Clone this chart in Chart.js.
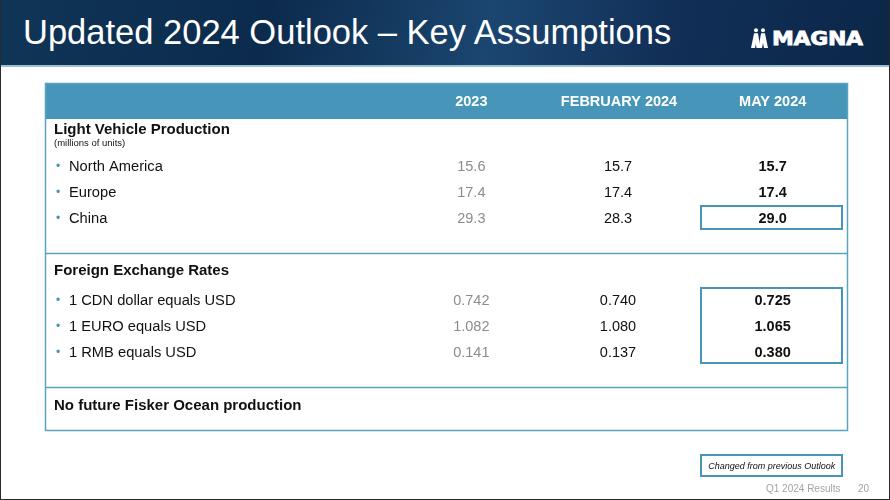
<!DOCTYPE html>
<html>
<head>
<meta charset="utf-8">
<title>Updated 2024 Outlook – Key Assumptions</title>
<script src="https://cdn.jsdelivr.net/npm/chart.js@4.4.1/dist/chart.umd.min.js"></script>
<style>
  html, body { margin: 0; padding: 0; background: #fff; }
  .slide {
    position: relative; width: 890px; height: 500px; overflow: hidden;
    box-sizing: border-box; border: 1px solid #2a2a2a; border-top: none;
    font-family: "Liberation Sans", Arial, sans-serif;
  }
  .header {
    position: absolute; left: 0; top: 0; width: 890px; height: 65px;
    background: linear-gradient(100deg, #0f3556 0%, #0c2b4c 30%, #1b4670 55%, #112f57 75%, #0b2748 100%);
    border-bottom: 2px solid #9cc0d3;
  }
  .title {
    position: absolute; left: 22px; top: 15px; color: #fff;
    font-size: 34.5px; line-height: 34px; white-space: nowrap;
  }
  .logo { position: absolute; left: 750px; top: 27px; height: 22px; }
  .logo svg { position: absolute; left: 0; top: 1px; }
  .logo span {
    position: absolute; left: 21px; top: 0; color: #fff;
    font: bold 20px "DejaVu Sans", sans-serif; line-height: 22px;
    -webkit-text-stroke: 0.8px #fff;
    transform: scaleX(1.1); transform-origin: left center; letter-spacing: -0.3px;
  }
  .footer { position: absolute; top: 483px; font-size: 10px; color: #a3a3a3; }
  #wrap { position: absolute; left: 0; top: 0; width: 890px; height: 500px; }
</style>
</head>
<body>
<div class="slide">
  <div class="header">
    <div class="title">Updated 2024 Outlook – Key Assumptions</div>
    <div class="logo">
      <svg width="20" height="20" viewBox="0 0 20 20">
        <circle cx="5" cy="2.2" r="2" fill="#fff"/>
        <circle cx="12" cy="2.2" r="2" fill="#fff"/>
        <polygon points="3,5.5 7,5.5 4,20 0,20" fill="#fff"/>
        <polygon points="3,5.5 7,5.5 9.5,20 5.5,20" fill="#fff"/>
        <polygon points="10,5.5 14,5.5 11,20 7.5,20" fill="#fff"/>
        <polygon points="10,5.5 14,5.5 17,20 13,20" fill="#fff"/>
      </svg>
      <span>MAGNA</span>
    </div>
  </div>
  <div id="wrap"><canvas id="chart"></canvas></div>
  <div class="footer" style="left:765px">Q1 2024 Results</div>
  <div class="footer" style="left:857px">20</div>
</div>

<script>
// table content
const columns = ['2023', 'FEBRUARY 2024', 'MAY 2024'];
const sections = ['Light Vehicle Production', 'Foreign Exchange Rates', 'No future Fisker Ocean production'];
const sectionNotes = ['(millions of units)', '', ''];
const sectionDecimals = [1, 3, 0];
const rowLabels = ['North America', 'Europe', 'China', '1 CDN dollar equals USD', '1 EURO equals USD', '1 RMB equals USD'];
const rowSection = [0, 0, 0, 1, 1, 1];
const values2023 = [15.6, 17.4, 29.3, 0.742, 1.082, 0.141];
const valuesFeb2024 = [15.7, 17.4, 28.3, 0.740, 1.080, 0.137];
const valuesMay2024 = [15.7, 17.4, 29.0, 0.725, 1.065, 0.380];
const changedMay = [false, false, true, true, true, true];
const legendText = 'Changed from previous Outlook';

const TEAL = '#4796b9';
const LINE = '#5aa2c3';
const FONT = '"Liberation Sans", Arial, sans-serif';

// vertical layout in row units (y scale is linear, reversed)
const sectionTop = [], titleY = [], noteY = [], rowY = [];
let cursor = 0;
sections.forEach((s, si) => {
  const idx = rowSection.map((r, i) => r === si ? i : -1).filter(i => i >= 0);
  sectionTop.push(cursor);
  titleY.push(cursor + (sectionNotes[si] ? 0.4 : idx.length ? 0.7 : 0.75));
  noteY.push(cursor + 0.93);
  idx.forEach((i, j) => { rowY[i] = cursor + 1.8 + j; });
  cursor += idx.length ? 1.3 + idx.length + 0.85 : 1.7;
});
const totalUnits = cursor;

const columnValues = [values2023, valuesFeb2024, valuesMay2024];
const columnStyle = [
  { color: '#8c8c8c', weight: 'normal' },
  { color: '#111111', weight: 'normal' },
  { color: '#111111', weight: 'bold' }
];

const tablePlugin = {
  id: 'table',
  afterDatasetsDraw(chart) {
    const { ctx, chartArea } = chart;
    const x = chart.scales.x, y = chart.scales.y;
    const left = y.left, right = chartArea.right;
    const colW = x.getPixelForValue(1) - x.getPixelForValue(0);
    ctx.save();

    // header band with column names
    ctx.fillStyle = TEAL;
    ctx.fillRect(left, x.top, right - left, x.height);
    ctx.fillStyle = '#fff';
    ctx.font = 'bold 14.5px ' + FONT;
    ctx.textAlign = 'center';
    ctx.textBaseline = 'middle';
    columns.forEach((c, i) => ctx.fillText(c, x.getPixelForValue(i) - (i === 1 ? 3 : 0), x.top + x.height / 2 + 1));

    // outer frame and section dividers
    ctx.strokeStyle = LINE;
    ctx.lineWidth = 1.5;
    ctx.strokeRect(left + 0.5, x.top + 0.5, right - left - 1, chartArea.bottom - x.top - 1);
    sectionTop.forEach((t, si) => {
      if (si === 0) return;
      const py = Math.round(y.getPixelForValue(t)) + 0.5;
      ctx.beginPath(); ctx.moveTo(left, py); ctx.lineTo(right, py); ctx.stroke();
    });

    // section titles and notes
    ctx.textAlign = 'left';
    ctx.fillStyle = '#111';
    sections.forEach((s, si) => {
      ctx.font = 'bold 15px ' + FONT;
      ctx.fillText(s, left + 9, y.getPixelForValue(titleY[si]));
      if (sectionNotes[si]) {
        ctx.font = '9.5px ' + FONT;
        ctx.fillText(sectionNotes[si], left + 9, y.getPixelForValue(noteY[si]));
      }
    });

    // row labels with bullets
    rowLabels.forEach((r, i) => {
      const py = y.getPixelForValue(rowY[i]) + 1;
      ctx.fillStyle = TEAL;
      ctx.font = '12px ' + FONT;
      ctx.fillText('•', left + 11, py);
      ctx.fillStyle = '#111';
      ctx.font = '14.7px ' + FONT;
      ctx.fillText(r, left + 24, py);
    });

    // values at the dataset points
    ctx.textAlign = 'center';
    chart.data.datasets.forEach((ds, k) => {
      const meta = chart.getDatasetMeta(k);
      ctx.fillStyle = columnStyle[k].color;
      ctx.font = columnStyle[k].weight + ' 14.5px ' + FONT;
      meta.data.forEach((pt, i) => {
        ctx.fillText(ds.values[i].toFixed(sectionDecimals[rowSection[i]]), pt.x - (k === 1 ? 4 : 0), pt.y + 1);
      });
    });

    // boxes round the changed May cells
    const mayX = x.getPixelForValue(2);
    ctx.strokeStyle = TEAL;
    ctx.lineWidth = 2;
    let i = 0;
    while (i < rowLabels.length) {
      if (!changedMay[i]) { i++; continue; }
      let j = i;
      while (j + 1 < rowLabels.length && changedMay[j + 1] && rowSection[j + 1] === rowSection[i]) j++;
      const y0 = y.getPixelForValue(rowY[i] - 0.45), y1 = y.getPixelForValue(rowY[j] + 0.45);
      ctx.strokeRect(Math.round(mayX - colW / 2 + 4), Math.round(y0), Math.round(colW - 10), Math.round(y1 - y0));
      i = j + 1;
    }

    // legend box
    const ly = chartArea.bottom + 24;
    ctx.strokeRect(Math.round(mayX - colW / 2 + 4), ly, Math.round(colW - 10), 21);
    ctx.fillStyle = '#111';
    ctx.font = 'italic 9px ' + FONT;
    ctx.fillText(legendText, mayX - 1, ly + 11);
    ctx.restore();
  }
};

Chart.defaults.font.family = FONT;

new Chart(document.getElementById('chart'), {
  type: 'line',
  data: {
    labels: columns,
    datasets: columns.map((c, k) => ({
      label: c,
      values: columnValues[k],
      data: rowLabels.map((r, i) => ({ x: c, y: rowY[i] })),
      pointRadius: 0,
      showLine: false
    }))
  },
  options: {
    responsive: true,
    maintainAspectRatio: false,
    devicePixelRatio: 1,
    animation: false,
    events: [],
    layout: { padding: { left: 44, top: 83, right: 43, bottom: 69 } },
    plugins: { legend: { display: false }, tooltip: { enabled: false } },
    scales: {
      x: {
        type: 'category',
        position: 'top',
        offset: true,
        grid: { display: false },
        border: { display: false },
        ticks: { display: false },
        afterFit: scale => { scale.height = 36; }
      },
      y: {
        type: 'linear',
        reverse: true,
        min: 0,
        max: totalUnits,
        grid: { display: false },
        border: { display: false },
        ticks: { display: false },
        afterFit: scale => { scale.width = 351; }
      }
    }
  },
  plugins: [tablePlugin]
});
</script>
</body>
</html>
